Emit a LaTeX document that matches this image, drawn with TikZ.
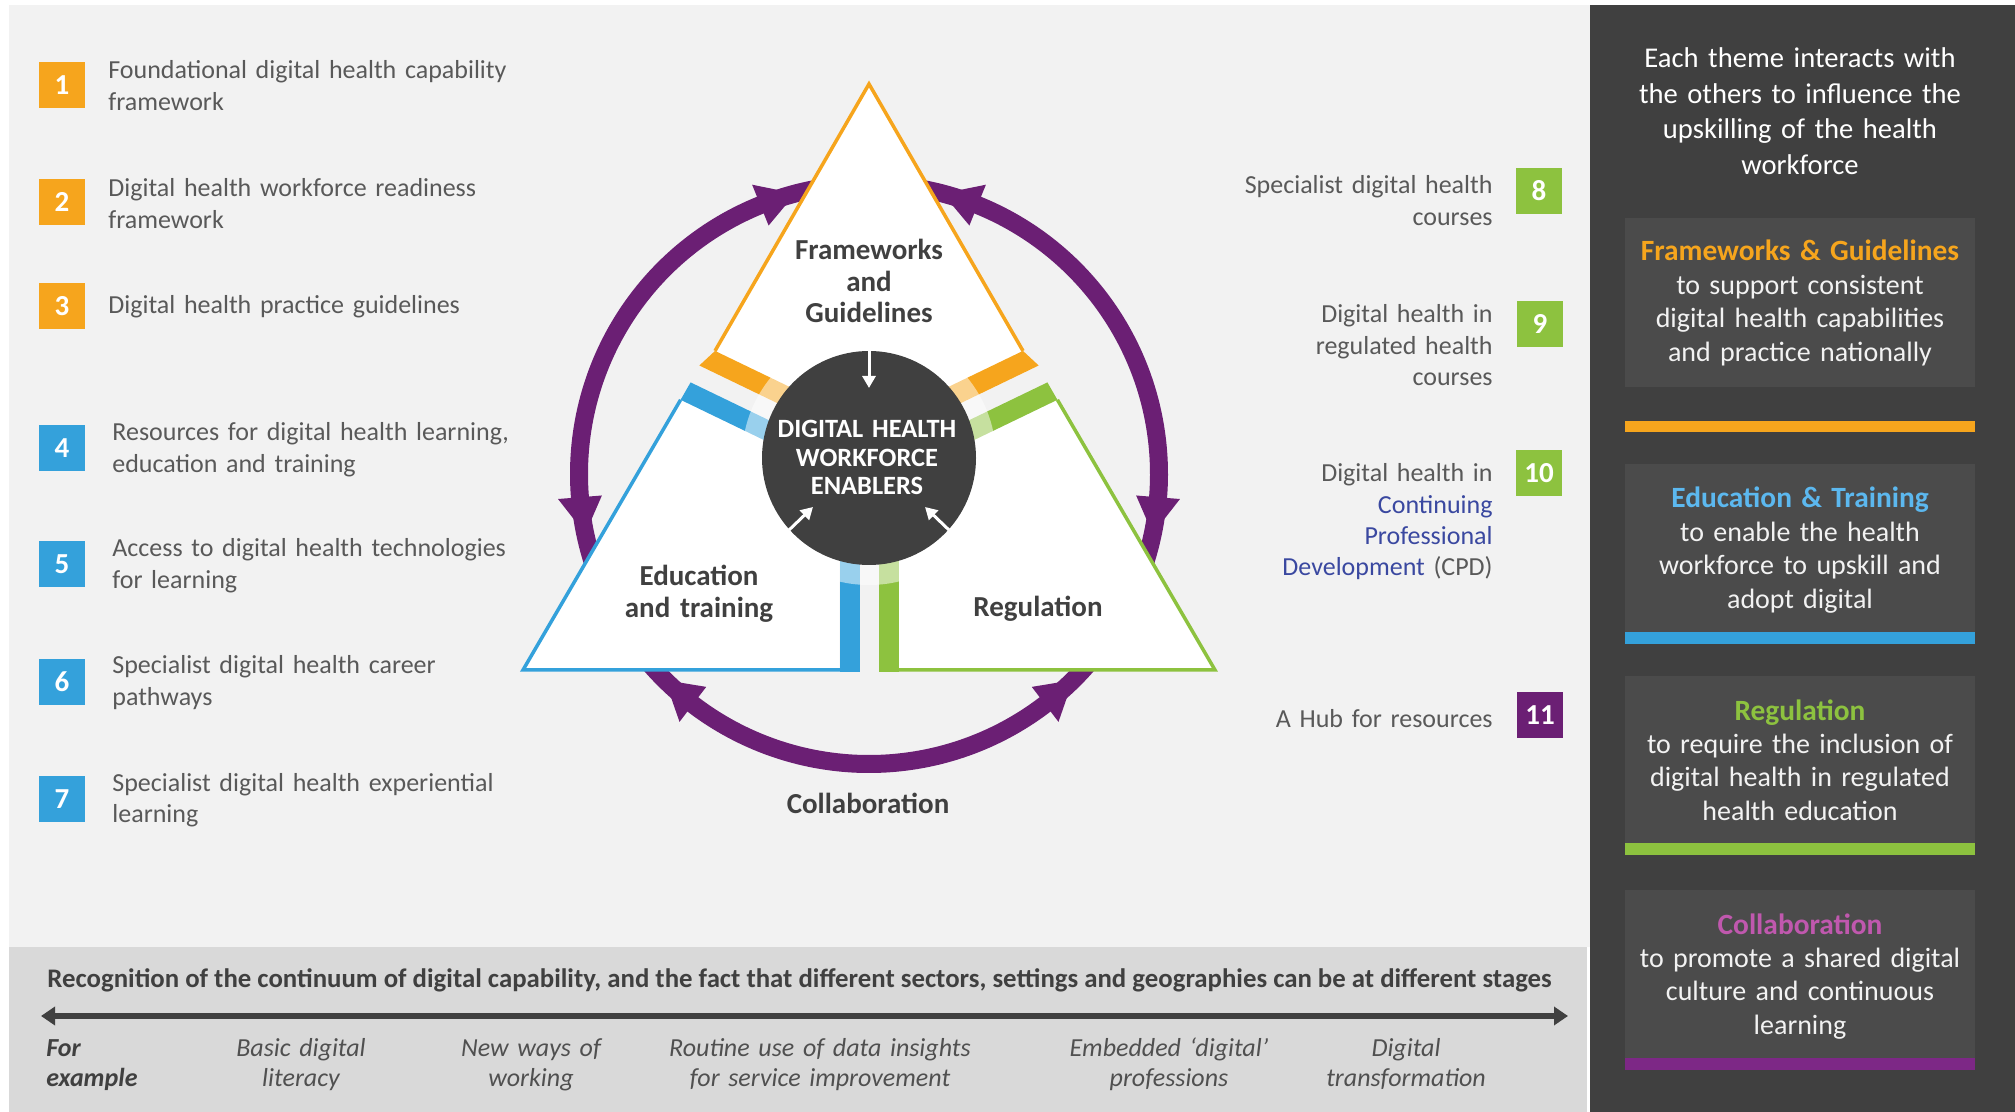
\documentclass[tikz,border=0pt]{standalone}
\usepackage{fontspec}
\setmainfont{Carlito}
\usetikzlibrary{calc,arrows.meta}
\definecolor{bglight}{HTML}{F2F2F2}
\definecolor{bandgrey}{HTML}{D9D9D9}
\definecolor{panel}{HTML}{404040}
\definecolor{panelbox}{HTML}{4B4B4B}
\definecolor{paneltext}{HTML}{F2F2F2}
\definecolor{txtgrey}{HTML}{595959}
\definecolor{txtdark}{HTML}{404040}
\definecolor{exgrey}{HTML}{505050}
\definecolor{corg}{HTML}{F6A51D}
\definecolor{cblue}{HTML}{34A1DB}
\definecolor{cgreen}{HTML}{8DC23F}
\definecolor{cpurple}{HTML}{6B1F74}
\definecolor{clink}{HTML}{3A48A0}
\definecolor{hblue}{HTML}{5CB8EF}
\definecolor{hpink}{HTML}{C058AE}
\definecolor{barpurple}{HTML}{7D2886}
\definecolor{coredark}{HTML}{404040}
\newcommand{\pnlhd}{\fontsize{14.7}{16.7}\selectfont\bfseries}
\begin{document}
\begin{tikzpicture}[x=0.5pt,y=-0.5pt,
  numbox/.style={minimum size=23pt,inner sep=0pt,text=white,font=\fontsize{14.5}{16}\selectfont\bfseries},
  itemL/.style={anchor=base west,inner sep=0pt,text width=250pt,align=left,text=txtgrey,font=\fontsize{13}{15.6}\selectfont},
  itemR/.style={anchor=base east,inner sep=0pt,text width=160pt,align=right,text=txtgrey,font=\fontsize{13}{15.6}\selectfont},
  kitelabel/.style={anchor=base,inner sep=0pt,text width=140pt,align=center,text=txtdark,font=\fontsize{14.5}{15.75}\selectfont\bfseries},
  panelbody/.style={anchor=base,inner sep=0pt,text width=175pt,align=center,text=paneltext,font=\fontsize{14}{16.7}\selectfont},
  example/.style={anchor=base,inner sep=0pt,text width=170pt,align=center,text=exgrey,font=\fontsize{13}{15}\selectfont\itshape},
  arcline/.style={draw=cpurple,line width=9pt},
  kiteline/.style={line width=1.75pt,line join=miter},
  inarrow/.style={white,line width=1.5pt,-{Triangle[width=6.5pt,length=6pt]}},
]
\useasboundingbox (0,0) rectangle (2015,1112);
% backgrounds
\fill[white] (0,0) rectangle (2015,1112);
\fill[bglight] (9,5) rectangle (1590,947);
\fill[bandgrey] (9,947) rectangle (1587,1112);
\fill[panel] (1590,5) rectangle (2015,1112);

% purple collaboration arcs
\coordinate (C) at (869,474);
\draw[arcline] ($(C)+(-98:290)$) arc[start angle=-98,end angle=-200,radius=290];
\draw[arcline] ($(C)+(-82:290)$) arc[start angle=-82,end angle=20,radius=290];
\draw[arcline] ($(C)+(142:290)$) arc[start angle=142,end angle=38,radius=290];
\foreach \a/\t in {-112/-104.7,-184.6/-191.9,-68/-75.3,4.6/11.9,127.4/134.7,52.6/45.3}
  \fill[cpurple] ($(C)+(\a:312)$) -- ($(C)+(\a:268)$) -- ($(C)+(\t:290)$) -- cycle;

% kites
\fill[white] (869,84) -- (715,350.9) -- (699.3,365.5) -- (783.1,406) -- (869,440) -- (954.9,406) -- (1038.7,365.5) -- (1023,350.9) -- cycle;
\draw[kiteline,corg] (715,350.9) -- (869,84) -- (1023,350.9);
\fill[white] (680.6,399.8) -- (523,670) -- (839.5,670) -- (839.5,540) -- (775.1,445.4) -- cycle;
\draw[kiteline,cblue] (680.6,399.8) -- (523,670) -- (841,670);
\fill[white] (1057.4,399.8) -- (1215,670) -- (898.5,670) -- (898.5,540) -- (962.9,445.4) -- cycle;
\draw[kiteline,cgreen] (1057.4,399.8) -- (1215,670) -- (897,670);

% bands
\fill[corg] (699.3,365.5) -- (715,350.9) -- (881.8,431.4) -- (873.1,449.4) -- cycle;
\fill[corg] (1038.7,365.5) -- (1023,350.9) -- (856.2,431.4) -- (864.9,449.4) -- cycle;
\fill[cblue] (690.6,382.4) -- (680.6,399.8) -- (856.2,484.6) -- (864.9,466.6) -- cycle;
\fill[cgreen] (1047.4,382.4) -- (1057.4,399.8) -- (881.8,484.6) -- (873.1,466.6) -- cycle;
\fill[cblue] (839.5,458) rectangle (859.5,672);
\fill[cgreen] (878.5,458) rectangle (898.5,672);

% halo and core
\fill[white,fill opacity=0.5] (869,458) circle[radius=127];
\node[circle,fill=coredark,minimum size=107pt,inner sep=0pt] (core) at (869,458) {};
\node[anchor=base,inner sep=0pt,text width=110pt,align=center,text=white,font=\fontsize{13.2}{14.3}\selectfont\bfseries] (coretxt) at (867,437.5) {DIGITAL HEALTH\\WORKFORCE\\ENABLERS};
\coordinate (in1) at (869,388);
\coordinate (in2) at (813,507);
\coordinate (in3) at (925,507);
\draw[inarrow] (core.north) -- (in1);
\draw[inarrow] (core.222) -- (in2);
\draw[inarrow] (core.318) -- (in3);

% kite labels
\node[kitelabel] (lfg) at (869,260) {Frameworks\\and\\Guidelines};
\node[kitelabel] (let) at (699,586) {Education\\and training};
\node[kitelabel] (lreg) at (1038,617) {Regulation};
\node[kitelabel] (lcol) at (868,813) {Collaboration};

% left list
\node[numbox,fill=corg] (n1) at (62,85) {1};
\node[itemL] (t1) at (108,79) {Foundational digital health capability\\framework};
\node[numbox,fill=corg] (n2) at (62,202) {2};
\node[itemL] (t2) at (108,197) {Digital health workforce readiness\\framework};
\node[numbox,fill=corg] (n3) at (62,306) {3};
\node[itemL] (t3) at (108,314) {Digital health practice guidelines};
\node[numbox,fill=cblue] (n4) at (62,448) {4};
\node[itemL] (t4) at (112,441) {Resources for digital health learning,\\education and training};
\node[numbox,fill=cblue] (n5) at (62,564) {5};
\node[itemL] (t5) at (112,557) {Access to digital health technologies\\for learning};
\node[numbox,fill=cblue] (n6) at (62,682) {6};
\node[itemL] (t6) at (112,674) {Specialist digital health career\\pathways};
\node[numbox,fill=cblue] (n7) at (62,799) {7};
\node[itemL] (t7) at (112,791) {Specialist digital health experiential\\learning};

% right list
\node[numbox,fill=cgreen] (n8) at (1539,191) {8};
\node[itemR] (t8) at (1493,194) {Specialist digital health\\courses};
\node[numbox,fill=cgreen] (n9) at (1540,324) {9};
\node[itemR] (t9) at (1493,323) {Digital health in\\regulated health\\courses};
\node[numbox,fill=cgreen] (n10) at (1539,473) {10};
\node[itemR] (t10) at (1493,482) {Digital health in\\\textcolor{clink}{Continuing}\\\textcolor{clink}{Professional}\\\textcolor{clink}{Development} (CPD)};
\node[numbox,fill=cpurple] (n11) at (1540,715) {11};
\node[itemR] (t11) at (1493,727) {A Hub for resources};

% right panel
\node[anchor=base,inner sep=0pt,text width=200pt,align=center,text=white,font=\fontsize{14.3}{17.75}\selectfont] (phead) at (1800,68) {Each theme interacts with\\the others to influence the\\upskilling of the health\\workforce};
\fill[panelbox] (1625,218) rectangle (1975,387);
\fill[corg] (1625,421) rectangle (1975,432);
\fill[panelbox] (1625,464) rectangle (1975,644);
\fill[cblue] (1625,632) rectangle (1975,644);
\fill[panelbox] (1625,676) rectangle (1975,855);
\fill[cgreen] (1625,843) rectangle (1975,855);
\fill[panelbox] (1625,890) rectangle (1975,1070);
\fill[barpurple] (1625,1058) rectangle (1975,1070);
\node[panelbody] (pfg) at (1800,261) {{\pnlhd\color{corg}Frameworks \& Guidelines}\\to support consistent\\digital health capabilities\\and practice nationally};
\node[panelbody] (pet) at (1800,508) {{\pnlhd\color{hblue}Education \& Training}\\to enable the health\\workforce to upskill and\\adopt digital};
\node[panelbody] (preg) at (1800,720) {{\pnlhd\color{cgreen}Regulation}\\to require the inclusion of\\digital health in regulated\\health education};
\node[panelbody] (pcol) at (1800,934) {{\pnlhd\color{hpink}Collaboration}\\to promote a shared digital\\culture and continuous\\learning};

% bottom band
\node[anchor=base west,inner sep=0pt,text=txtdark,font=\fontsize{13.4}{15}\selectfont\bfseries] (recog) at (47,987) {Recognition of the continuum of digital capability, and the fact that different sectors, settings and geographies can be at different stages};
\coordinate (cL) at (41,1016);
\coordinate (cR) at (1568,1016);
\draw[txtdark,line width=2.8pt,{Triangle[width=9pt,length=7pt]}-{Triangle[width=9pt,length=7pt]}] (cL) -- (cR);
\node[anchor=base west,inner sep=0pt,text width=60pt,align=left,text=txtdark,font=\fontsize{13}{15}\selectfont\bfseries\itshape] (forex) at (46,1056) {For\\example};
\node[example] (ex1) at (301,1056) {Basic digital\\literacy};
\node[example] (ex2) at (531,1056) {New ways of\\working};
\node[example] (ex3) at (820,1056) {Routine use of data insights\\for service improvement};
\node[example] (ex4) at (1169,1056) {Embedded ‘digital’\\professions};
\node[example] (ex5) at (1406,1056) {Digital\\transformation};
\end{tikzpicture}
\end{document}
